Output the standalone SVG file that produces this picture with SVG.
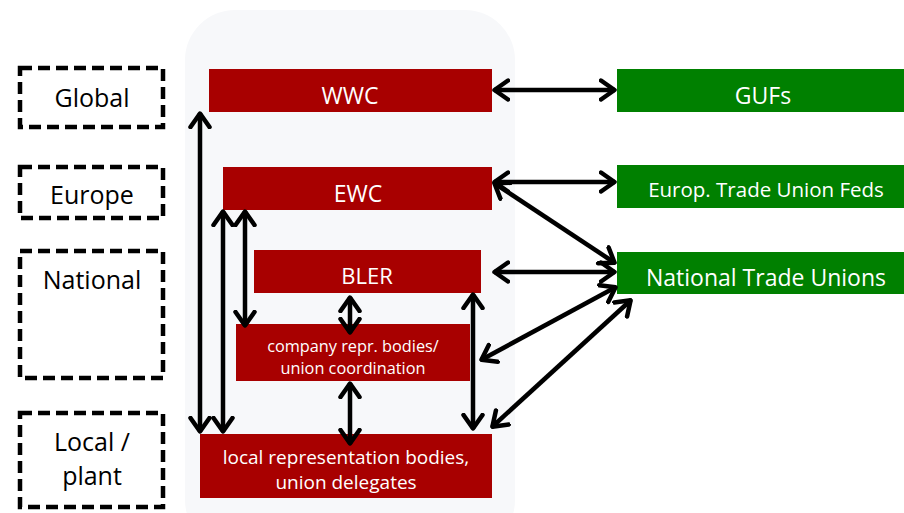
<svg xmlns="http://www.w3.org/2000/svg" width="904" height="513" viewBox="0 0 904 513">
<style>
text{font-family:"Open Sans","Noto Sans","Liberation Sans",sans-serif;text-anchor:middle}
.lvl{fill:#fff;stroke:#000;stroke-width:4.5;stroke-dasharray:12,6}
.lt{fill:#000;font-size:25px}
.red{fill:#A80000}
.grn{fill:#008000}
.wt{fill:#fff}
.con line{stroke:#000;stroke-width:4.5;marker-start:url(#ah);marker-end:url(#ah)}
</style>
<defs>
<marker id="ah" viewBox="0 0 18 24" refX="16" refY="12" markerWidth="18" markerHeight="24" markerUnits="userSpaceOnUse" orient="auto-start-reverse">
<path d="M2,2.5 L15.5,12 L2,21.5" fill="none" stroke="#000" stroke-width="4.5" stroke-linecap="round" stroke-linejoin="round"/>
</marker>
</defs>
<rect x="0" y="0" width="904" height="513" fill="#fff"/>
<rect x="185" y="10" width="330" height="540" rx="50" fill="#F7F8FA"/>
<g id="level-global"><rect class="lvl" x="20" y="68" width="143" height="59"/><text class="lt" x="92" y="107">Global</text></g>
<g id="level-europe"><rect class="lvl" x="20" y="167" width="143" height="51"/><text class="lt" x="92" y="204">Europe</text></g>
<g id="level-national"><rect class="lvl" x="20" y="251" width="143" height="127"/><text class="lt" x="92" y="289">National</text></g>
<g id="level-local"><rect class="lvl" x="20" y="413" width="143" height="94"/><text class="lt" x="92" y="451">Local /</text><text class="lt" x="92" y="485">plant</text></g>
<g id="wwc"><rect class="red" x="209" y="69" width="283" height="43"/><text class="wt" x="350" y="104" font-size="23">WWC</text></g>
<g id="ewc"><rect class="red" x="223" y="167" width="269" height="43"/><text class="wt" x="358" y="202" font-size="23">EWC</text></g>
<g id="bler"><rect class="red" x="254" y="250" width="227" height="43"/><text class="wt" x="367" y="284" font-size="22">BLER</text></g>
<g id="company"><rect class="red" x="236" y="324" width="234" height="57"/><text class="wt" x="353" y="352" font-size="16.3">company repr. bodies/</text><text class="wt" x="353" y="374" font-size="16.3">union coordination</text></g>
<g id="local"><rect class="red" x="200" y="434" width="292" height="64"/><text class="wt" x="346" y="464" font-size="19">local representation bodies,</text><text class="wt" x="346" y="489" font-size="19">union delegates</text></g>
<g id="gufs"><rect class="grn" x="617" y="69" width="287" height="43"/><text class="wt" x="763" y="104" font-size="23">GUFs</text></g>
<g id="europ-tuf"><rect class="grn" x="617" y="165" width="287" height="43"/><text class="wt" x="766" y="197" font-size="20.5">Europ. Trade Union Feds</text></g>
<g id="national-tu"><rect class="grn" x="617" y="252" width="287" height="42"/><text class="wt" x="766" y="286" font-size="23">National Trade Unions</text></g>
<g id="connectors" class="con">
<line x1="494" y1="90" x2="615" y2="90"/>
<line x1="494" y1="182" x2="615" y2="182"/>
<line x1="494" y1="183" x2="615" y2="263"/>
<line x1="494" y1="272" x2="615" y2="272"/>
<line x1="481" y1="360" x2="616" y2="287"/>
<line x1="492" y1="427" x2="631" y2="300"/>
<line x1="200" y1="113" x2="200" y2="432"/>
<line x1="223" y1="211" x2="223" y2="432"/>
<line x1="245" y1="211" x2="245" y2="326"/>
<line x1="350" y1="297" x2="350" y2="333"/>
<line x1="350" y1="383" x2="350" y2="444"/>
<line x1="473" y1="294" x2="473" y2="429"/>
</g>
</svg>
